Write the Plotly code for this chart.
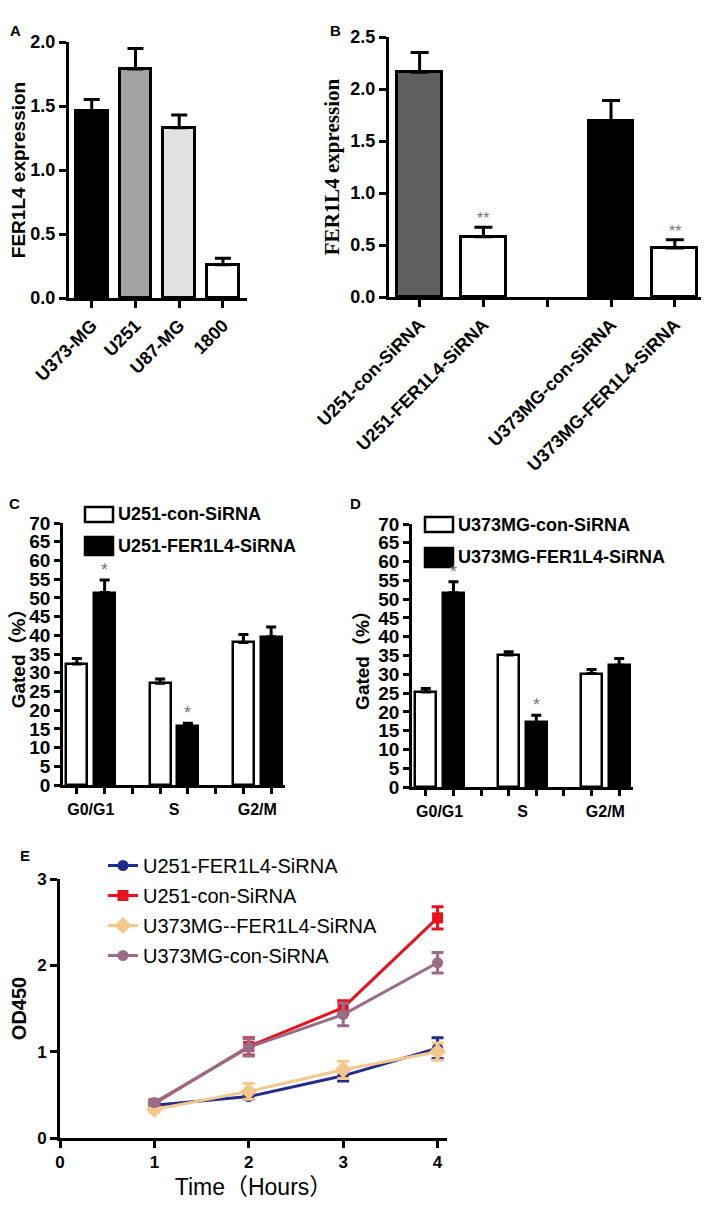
import plotly.graph_objects as go

W, H = 709, 1231
OFF = 8  # page body margin of the written html

# ---------------- data ----------------
# Panel A
a_cats = ["U373-MG", "U251", "U87-MG", "1800"]
a_vals = [1.46, 1.79, 1.33, 0.26]
a_errs = [0.09, 0.16, 0.10, 0.05]
a_colors = ["#000000", "#a2a2a2", "#e2e2e2", "#ffffff"]

# Panel B (position 2 is an empty gap)
b_ticktext = ["U251-con-SiRNA", "U251-FER1L4-SiRNA", "", "U373MG-con-SiRNA", "U373MG-FER1L4-SiRNA"]
b_pos = [0, 1, 3, 4]
b_vals = [2.16, 0.58, 1.69, 0.47]
b_errs = [0.19, 0.09, 0.20, 0.08]
b_colors = ["#5f5f5f", "#ffffff", "#000000", "#ffffff"]
b_marks = ["", "**", "", "**"]

# Panels C and D
phases = ["G0/G1", "S", "G2/M"]
c_con = [32.3, 27.2, 38.1]
c_con_err = [1.5, 1.1, 2.1]
c_kd = [51.4, 15.8, 39.6]
c_kd_err = [3.4, 0.7, 2.6]
c_marks = ["*", "*", ""]
c_names = ["U251-con-SiRNA", "U251-FER1L4-SiRNA"]

d_con = [25.3, 35.1, 30.2]
d_con_err = [0.9, 0.9, 1.1]
d_kd = [51.7, 17.2, 32.4]
d_kd_err = [2.9, 1.9, 1.8]
d_marks = ["*", "*", ""]
d_names = ["U373MG-con-SiRNA", "U373MG-FER1L4-SiRNA"]

# Panel E
e_time = [1, 2, 3, 4]
e_series = [
    ("U251-FER1L4-SiRNA", [0.38, 0.48, 0.72, 1.04], [0.02, 0.03, 0.06, 0.12], "#232c8c", "circle"),
    ("U251-con-SiRNA", [0.40, 1.06, 1.51, 2.55], [0.03, 0.10, 0.08, 0.13], "#e8121c", "square"),
    ("U373MG--FER1L4-SiRNA", [0.33, 0.54, 0.79, 1.00], [0.03, 0.09, 0.10, 0.10], "#f4c78a", "diamond"),
    ("U373MG-con-SiRNA", [0.41, 1.05, 1.43, 2.03], [0.03, 0.10, 0.13, 0.12], "#9a6b86", "circle"),
]

# ---------------- helpers ----------------
SANS = "Liberation Sans, Arial, Noto Sans CJK SC"
SERIF = "Liberation Serif, Times New Roman, serif"


def px(x):
    return (x - OFF) / W


def py(y):
    return 1 - (y - OFF) / H


def dx(p0, p1):
    return [px(p0), px(p1)]


def dy(top, bottom):
    return [py(bottom), py(top)]


def bold(size, family=SANS, color="black"):
    return dict(family=family, size=size, color=color, weight="bold")


fig = go.Figure()

# ---- Panel A ----
fig.add_trace(go.Bar(
    x=a_cats, y=a_vals, width=0.73, xaxis="x", yaxis="y",
    marker=dict(color=a_colors, line=dict(color="black", width=3)),
    error_y=dict(type="data", symmetric=False, array=a_errs, arrayminus=[0] * len(a_errs),
                 color="black", thickness=3, width=8),
    showlegend=False,
))

# ---- Panel B ----
fig.add_trace(go.Bar(
    x=b_pos, y=b_vals, width=0.7, xaxis="x2", yaxis="y2",
    marker=dict(color=b_colors, line=dict(color="black", width=3)),
    error_y=dict(type="data", symmetric=False, array=b_errs, arrayminus=[0] * len(b_errs),
                 color="black", thickness=3, width=9),
    showlegend=False,
))

annotations = []
for xp, v, e, m in zip(b_pos, b_vals, b_errs, b_marks):
    if m:
        annotations.append(dict(x=xp, y=v + e, xref="x2", yref="y2", text=m, showarrow=False,
                                yanchor="bottom", yshift=-2, font=dict(family=SANS, size=16, color="#777777")))


# ---- Panels C & D ----
def cycle_panel(xa, ya, con, con_err, kd, kd_err, marks):
    xc = [3 * i for i in range(len(phases))]
    xk = [3 * i + 1 for i in range(len(phases))]
    fig.add_trace(go.Bar(
        x=xc, y=con, width=0.75, xaxis=xa, yaxis=ya,
        marker=dict(color="white", line=dict(color="black", width=2.5)),
        error_y=dict(type="data", symmetric=False, array=con_err, arrayminus=[0] * 3,
                     color="black", thickness=3, width=5),
        showlegend=False,
    ))
    fig.add_trace(go.Bar(
        x=xk, y=kd, width=0.75, xaxis=xa, yaxis=ya,
        marker=dict(color="black", line=dict(color="black", width=2.5)),
        error_y=dict(type="data", symmetric=False, array=kd_err, arrayminus=[0] * 3,
                     color="black", thickness=3, width=5),
        showlegend=False,
    ))
    for xp, v, e, m in zip(xk, kd, kd_err, marks):
        if m:
            annotations.append(dict(x=xp, y=v + e, xref=xa, yref=ya, text=m, showarrow=False,
                                    yanchor="bottom", yshift=-2,
                                    font=dict(family=SANS, size=18, color="#777777")))


cycle_panel("x3", "y3", c_con, c_con_err, c_kd, c_kd_err, c_marks)
cycle_panel("x4", "y4", d_con, d_con_err, d_kd, d_kd_err, d_marks)

# ---- Panel E ----
for name, vals, errs, col, sym in e_series:
    fig.add_trace(go.Scatter(
        x=e_time, y=vals, name=name, legendgroup=name, xaxis="x5", yaxis="y5",
        mode="lines+markers",
        line=dict(color=col, width=3),
        marker=dict(color=col, symbol=sym, size=11 if sym != "diamond" else 13),
        error_y=dict(type="data", array=errs, color=col, thickness=3, width=6),
        cliponaxis=False,
    ))

# ---------------- layout ----------------
axis_common = dict(showline=True, linecolor="black", linewidth=3, ticks="outside",
                   tickcolor="black", tickwidth=3, ticklen=7, showgrid=False, zeroline=False,
                   mirror=False, automargin=False)

layout = dict(
    width=W, height=H, margin=dict(l=0, r=0, t=0, b=0, pad=0, autoexpand=False),
    paper_bgcolor="white", plot_bgcolor="white", bargap=0,
    showlegend=True,
    legend=dict(x=px(103), y=py(846), xanchor="left", yanchor="top",
                bgcolor="rgba(0,0,0,0)", font=dict(family=SANS, size=20, color="black"),
                itemwidth=30, tracegroupgap=1),
)

# A
layout["xaxis"] = dict(axis_common, domain=dx(69, 247), anchor="y", range=[-0.52, 3.55],
                       tickangle=-45, tickfont=bold(18))
layout["yaxis"] = dict(axis_common, domain=dy(42, 298), anchor="x", range=[0, 2.0],
                       tickvals=[0, 0.5, 1.0, 1.5, 2.0], ticktext=["0.0", "0.5", "1.0", "1.5", "2.0"],
                       tickfont=bold(18),
                       title=dict(text="FER1L4 expression", font=bold(19), standoff=6))
# B
layout["xaxis2"] = dict(axis_common, domain=dx(389, 708), anchor="y2", range=[-0.48, 4.52],
                        tickvals=list(range(len(b_ticktext))), ticktext=b_ticktext,
                        tickangle=-45, tickfont=bold(18))
layout["yaxis2"] = dict(axis_common, domain=dy(37, 297), anchor="x2", range=[0, 2.5],
                        tickvals=[0, 0.5, 1.0, 1.5, 2.0, 2.5],
                        ticktext=["0.0", "0.5", "1.0", "1.5", "2.0", "2.5"],
                        tickfont=bold(18),
                        title=dict(text="FER1L4 expression", font=bold(21, SERIF), standoff=6))
# C, D
for xa, ya, xd, yd in [("xaxis3", "yaxis3", dx(63, 285), dy(523, 785)),
                       ("xaxis4", "yaxis4", dx(412, 633), dy(524, 787))]:
    layout[xa] = dict(axis_common, domain=xd, anchor="y" + ya[-1], range=[-0.5, 7.5],
                      linewidth=2.5, ticks="", tickvals=[0.5, 3.5, 6.5], ticktext=phases,
                      tickfont=bold(16), ticklabelstandoff=8,
                      minor=dict(tickvals=list(range(8)), ticks="outside", ticklen=6,
                                 tickwidth=2.5, tickcolor="black"))
    layout[ya] = dict(axis_common, domain=yd, anchor="x" + xa[-1], range=[0, 70],
                      linewidth=2.5, tickwidth=2.5, ticklen=6,
                      tickvals=list(range(0, 71, 5)), tickfont=bold(19),
                      title=dict(text="Gated（%）", font=bold(19), standoff=4))
# E
layout["xaxis5"] = dict(axis_common, domain=dx(60, 447), anchor="y5", range=[0, 4.1],
                        tickvals=[0, 1, 2, 3, 4], tickfont=bold(17),
                        title=dict(text="Time（Hours）", font=dict(family=SANS, size=23, color="black"),
                                   standoff=8))
layout["yaxis5"] = dict(axis_common, domain=dy(879, 1138), anchor="x5", range=[0, 3],
                        tickvals=[0, 1, 2, 3], tickfont=bold(17),
                        title=dict(text="OD450", font=bold(20), standoff=10))

# panel letters
for letter, lx, ly in [("A", 15, 30), ("B", 335, 30), ("C", 14, 503), ("D", 355, 503), ("E", 25, 855)]:
    annotations.append(dict(x=px(lx), y=py(ly), xref="paper", yref="paper", text=letter,
                            showarrow=False, xanchor="center", yanchor="middle", font=bold(15)))

# legends for C and D (swatches + labels)
shapes = []
for (bx, by1, by2, tx), names in [((85, (507, 522), (537, 555), 116), c_names),
                                   ((425, (517, 532), (548, 567), 456), d_names)]:
    for (t, b), fill, name in zip([by1, by2], ["white", "black"], names):
        shapes.append(dict(type="rect", xref="paper", yref="paper",
                           x0=px(bx), x1=px(bx + 28), y0=py(b), y1=py(t),
                           fillcolor=fill, line=dict(color="black", width=2.5)))
        annotations.append(dict(x=px(tx), y=py((t + b) / 2), xref="paper", yref="paper",
                                text=name, showarrow=False, xanchor="left", yanchor="middle",
                                font=bold(18)))

layout["annotations"] = annotations
layout["shapes"] = shapes

fig.update_layout(**layout)
fig.write_html("out.html")
